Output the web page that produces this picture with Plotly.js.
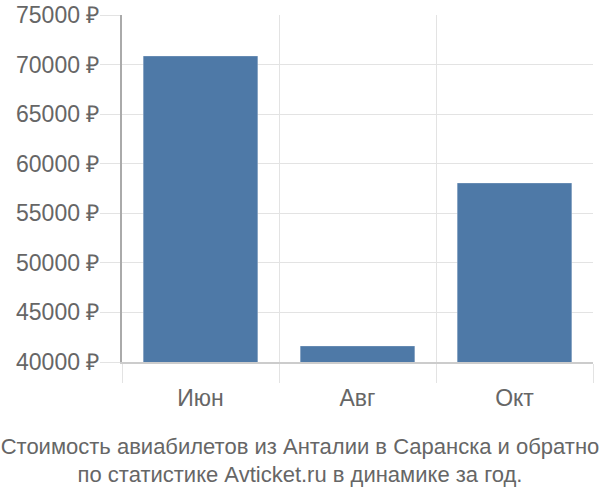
<!DOCTYPE html>
<html>
<head>
<meta charset="utf-8">
<script src="https://cdn.plot.ly/plotly-3.0.1.min.js"></script>
<style>html,body{margin:0;padding:0;background:#fff;}#chart{width:600px;height:500px;}</style>
</head>
<body>
<div id="chart"></div>
<script>
const categories = ["Июн", "Авг", "Окт"];
const prices = [70860, 41610, 58050];
const yTickVals = [40000, 45000, 50000, 55000, 60000, 65000, 70000, 75000];
const yTickText = yTickVals.map(v => v + " ₽");
const titleLines = ["Стоимость авиабилетов из Анталии в Саранска и обратно", "по статистике Avticket.ru в динамике за год."];

const font = "'Liberation Sans', Arial, sans-serif";

Plotly.newPlot("chart", [{
  type: "bar",
  x: categories,
  y: prices,
  marker: {color: "#4e79a7", line: {color: "rgba(255,255,255,0.25)", width: 1}},
  hoverinfo: "none"
}], {
  width: 600, height: 500,
  margin: {l: 122, r: 7, t: 15, b: 138},
  paper_bgcolor: "#fff", plot_bgcolor: "#fff",
  showlegend: false,
  bargap: 0.27,
  font: {family: font, color: "#666", size: 23},
  title: {
    text: titleLines.join("<br>"),
    font: {family: font, size: 22, color: "#666"},
    x: 0.5, xanchor: "center",
    yref: "container", y: 0.093, yanchor: "middle"
  },
  xaxis: {
    type: "category",
    tickson: "boundaries",
    showgrid: true, gridcolor: "#e3e3e3", gridwidth: 1,
    ticks: "outside", ticklen: 19, tickcolor: "#e3e3e3", tickwidth: 1,
    ticklabelstandoff: 14,
    showline: true, linecolor: "#cccccc", linewidth: 2,
    tickfont: {family: font, size: 23, color: "#666"},
    zeroline: false, fixedrange: true
  },
  yaxis: {
    range: [40000, 75000],
    tickmode: "array", tickvals: yTickVals, ticktext: yTickText,
    showgrid: true, gridcolor: "#e3e3e3", gridwidth: 1,
    ticks: "outside", ticklen: 20, tickcolor: "#e3e3e3", tickwidth: 1,
    ticklabelstandoff: -4,
    showline: true, linecolor: "#aaaaaa", linewidth: 2,
    tickfont: {family: font, size: 23, color: "#666"},
    zeroline: false, fixedrange: true
  }
}, {displayModeBar: false, staticPlot: true});
</script>
</body>
</html>
